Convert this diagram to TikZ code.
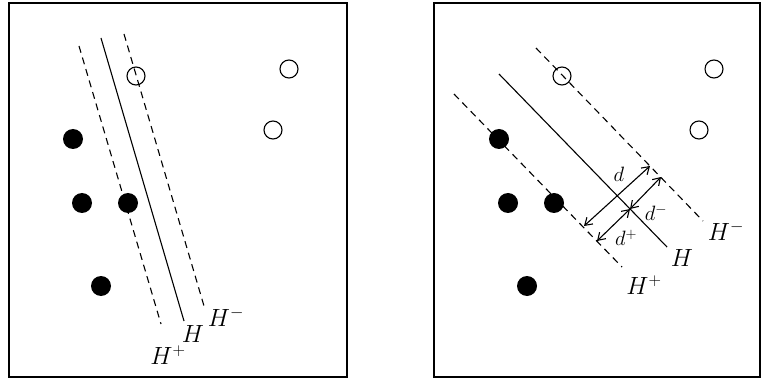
\documentclass[tikz,border=0pt]{standalone}
\usetikzlibrary{arrows.meta}
\begin{document}
\begin{tikzpicture}[x=1pt,y=-1pt,
  frame/.style={line width=1.4pt},
  hyper/.style={line width=1.1pt},
  margin/.style={line width=1.1pt,dash pattern=on 7pt off 5pt},
  posdot/.style={circle,fill=black,minimum size=20pt,inner sep=0pt},
  negdot/.style={circle,draw=black,line width=1.1pt,fill=white,minimum size=18pt,inner sep=0pt},
  hlab/.style={font=\fontsize{23}{26}\selectfont,inner sep=0pt},
  dlab/.style={font=\fontsize{20}{23}\selectfont,inner sep=0pt},
  dist/.style={line width=1.1pt,{Straight Barb[length=7pt,width=9pt]}-{Straight Barb[length=7pt,width=9pt]}}]
\useasboundingbox (0,0) rectangle (762,379);
% frames
\draw[frame] (9,3) rectangle (347,377);
\draw[frame] (434,3) rectangle (760,377);
% ---- left panel ----
\coordinate (lp1) at (79,46);  \coordinate (lp2) at (161,324);
\coordinate (lh1) at (101,38); \coordinate (lh2) at (184,321);
\coordinate (lm1) at (124,34); \coordinate (lm2) at (204,306);
\draw[margin] (lp1) -- (lp2);
\draw[hyper] (lh1) -- (lh2);
\node[negdot] (ln1) at (136,76) {};
\draw[margin] (lm1) -- (lm2);
\node[negdot] (ln2) at (289,69) {};
\node[negdot] (ln3) at (273,130) {};
\node[posdot] (lq1) at (73,139) {};
\node[posdot] (lq2) at (82,203) {};
\node[posdot] (lq3) at (128,203) {};
\node[posdot] (lq4) at (101,286) {};
\node[hlab] (lHp) at (168,355) {$H^+$};
\node[hlab] (lH) at (193,334) {$H$};
\node[hlab] (lHm) at (226,317) {$H^-$};
% ---- right panel ----
\coordinate (rp1) at (454,94);  \coordinate (rp2) at (622,267);
\coordinate (rh1) at (499,74);  \coordinate (rh2) at (667,247);
\coordinate (rm1) at (536,48);  \coordinate (rm2) at (703,221);
\draw[margin] (rp1) -- (rp2);
\draw[hyper] (rh1) -- (rh2);
\node[negdot] (rn1) at (562,76) {};
\draw[margin] (rm1) -- (rm2);
\node[negdot] (rn2) at (714,69) {};
\node[negdot] (rn3) at (699,130) {};
\node[posdot] (rq1) at (499,139) {};
\node[posdot] (rq2) at (508,203) {};
\node[posdot] (rq3) at (554,203) {};
\node[posdot] (rq4) at (527,286) {};
\coordinate (da) at (584,226);
\coordinate (db) at (650,166);
\coordinate (dpa) at (597,241);
\coordinate (dmid) at (630,209);
\coordinate (dmb) at (661,177);
\draw[dist] (da) -- (db);
\draw[dist] (dpa) -- (dmid);
\draw[dist] (dmid) -- (dmb);
\node[dlab] (ld) at (619,174) {$d$};
\node[dlab] (ldm) at (656,213) {$d^-$};
\node[dlab] (ldp) at (626,238) {$d^+$};
\node[hlab] (rHm) at (726,231) {$H^-$};
\node[hlab] (rH) at (682,258) {$H$};
\node[hlab] (rHp) at (644,285) {$H^+$};
\end{tikzpicture}
\end{document}
